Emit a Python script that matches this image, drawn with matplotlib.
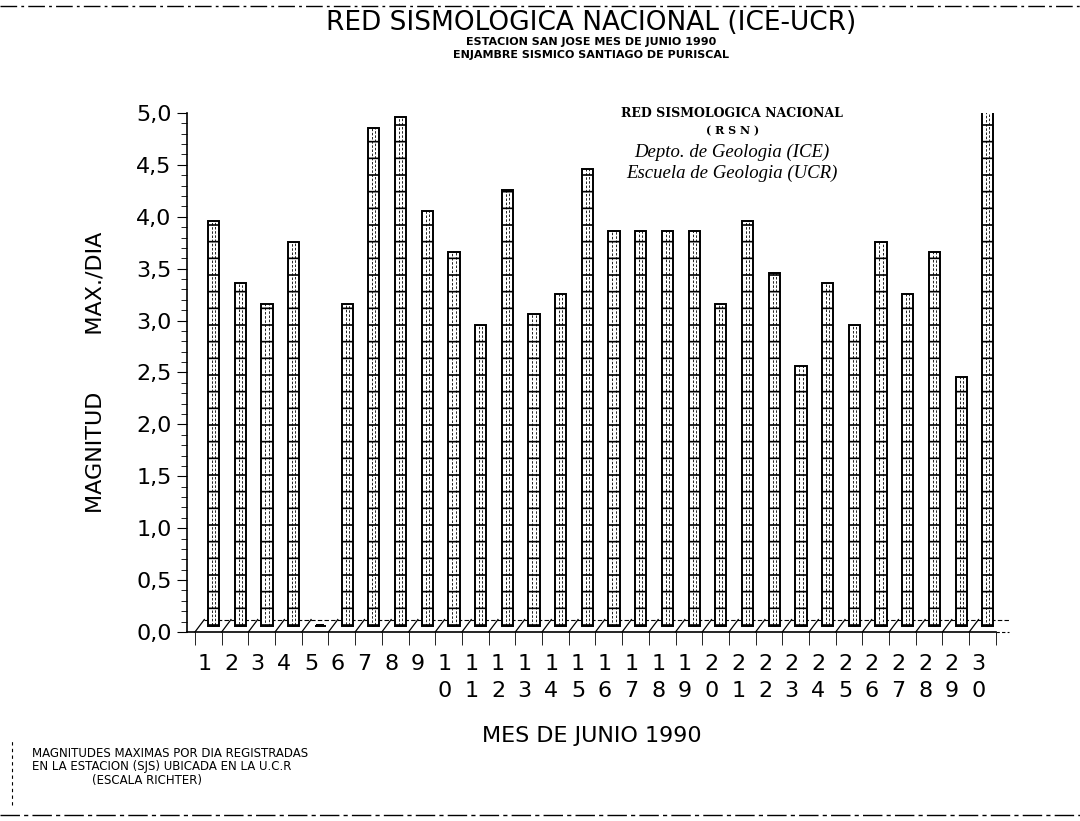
import numpy as np
import matplotlib
matplotlib.use("Agg")
import matplotlib.pyplot as plt
from matplotlib.lines import Line2D

# data: max magnitude per day, June 1990 (day 5 has no record)
days = list(range(1, 31))
magnitudes = [3.9, 3.3, 3.1, 3.7, 0.0, 3.1, 4.8, 4.9, 4.0, 3.6,
              2.9, 4.2, 3.0, 3.2, 4.4, 3.8, 3.8, 3.8, 3.8, 3.1,
              3.9, 3.4, 2.5, 3.3, 2.9, 3.7, 3.2, 3.6, 2.4, 5.0]
day_labels = [str(d) if d < 10 else f"{d // 10}\n{d % 10}" for d in days]
y_ticks = [0.0, 0.5, 1.0, 1.5, 2.0, 2.5, 3.0, 3.5, 4.0, 4.5, 5.0]
y_labels = [f"{v:.1f}".replace(".", ",") for v in y_ticks]

fig = plt.figure(figsize=(10.8, 8.21), dpi=100)
ax = fig.add_axes([0.1731, 0.2302, 0.749, 0.6322])

# 3d-ish floor under the bars
depth_x, depth_y = 0.35, 0.12
for d in days:
    x0 = d - 0.5
    ax.plot([x0, x0 + depth_x], [0, depth_y], color="black", lw=0.9, clip_on=False)
ax.plot([0.5 + depth_x, 31.0], [depth_y, depth_y], color="black",
        lw=0.8, ls=(0, (4, 2)), clip_on=False)
ax.plot([30.5, 31.0], [0, 0], color="black", lw=0.8, ls=(0, (3, 2)), clip_on=False)

# bars (columns with segment hatching + inner line for the cylinder look)
plt.rcParams["hatch.linewidth"] = 1.2
heights = np.array(magnitudes)
xs = np.array(days) + 0.2
ax.bar(xs, heights, width=0.42, bottom=depth_y * 0.5, color="white",
       edgecolor="black", hatch="-", linewidth=1.4, zorder=3)
ax.bar(xs, heights, width=0.12, bottom=depth_y * 0.5, fill=False,
       edgecolor="black", linewidth=0.6, linestyle=(0, (3, 2)), zorder=4)
ax.bar(xs[heights == 0], [0.03], width=0.3, bottom=0.05, color="black", zorder=3)

ax.set_xlim(0.2, 30.5)
ax.set_ylim(0, 5.0)
ax.spines["top"].set_visible(False)
ax.spines["right"].set_visible(False)
ax.spines["left"].set_linewidth(1.2)
ax.spines["bottom"].set_linewidth(1.2)

ax.set_yticks(y_ticks)
ax.set_yticklabels(y_labels, fontsize=16)
ax.set_yticks(np.arange(0, 5.01, 0.1), minor=True)
ax.tick_params(axis="y", which="major", length=7, direction="out", pad=4)
ax.tick_params(axis="y", which="minor", length=4, direction="out")

ax.set_xticks(np.array(days) - 0.15)
ax.set_xticklabels(day_labels, fontsize=16, va="top", linespacing=1.45)
ax.set_xticks(np.arange(0.5, 30.6, 1.0), minor=True)
ax.tick_params(axis="x", which="major", length=0, pad=16)
ax.tick_params(axis="x", which="minor", length=9, direction="out")

ax.set_ylabel("MAGNITUD        MAX./DIA", fontsize=16, labelpad=22)
ax.set_xlabel("MES DE JUNIO 1990", fontsize=16, labelpad=18)

# titles
fig.text(0.547, 0.972, "RED SISMOLOGICA NACIONAL (ICE-UCR)", fontsize=19,
         ha="center", va="center")
fig.text(0.547, 0.949, "ESTACION SAN JOSE MES DE JUNIO 1990", fontsize=8,
         ha="center", va="center", fontweight="bold")
fig.text(0.547, 0.933, "ENJAMBRE SISMICO SANTIAGO DE PURISCAL", fontsize=8,
         ha="center", va="center", fontweight="bold")

# institution box
fig.text(0.678, 0.862, "RED SISMOLOGICA NACIONAL", fontsize=9, ha="center",
         va="center", fontweight="bold", family="DejaVu Serif")
fig.text(0.678, 0.841, "( R S N )", fontsize=8, ha="center", va="center",
         fontweight="bold", family="DejaVu Serif")
fig.text(0.678, 0.815, "Depto. de Geologia (ICE)", fontsize=13.5, ha="center",
         va="center", style="italic", family="Liberation Serif")
fig.text(0.678, 0.789, "Escuela de Geologia (UCR)", fontsize=13.5, ha="center",
         va="center", style="italic", family="Liberation Serif")

# note
fig.text(0.030, 0.066, "MAGNITUDES MAXIMAS POR DIA REGISTRADAS\n"
         "EN LA ESTACION (SJS) UBICADA EN LA U.C.R\n"
         "                (ESCALA RICHTER)",
         fontsize=8.5, ha="left", va="center", linespacing=1.05)

# page border bits
fig.add_artist(Line2D([0.0, 1.0], [0.993, 0.993], color="black", lw=1.0,
                      ls=(0, (12, 3, 2, 3))))
fig.add_artist(Line2D([0.0, 1.0], [0.007, 0.007], color="black", lw=1.0,
                      ls=(0, (14, 3, 3, 3))))
fig.add_artist(Line2D([0.011, 0.011], [0.02, 0.1], color="black", lw=0.8,
                      ls=(0, (3, 3))))

fig.savefig("out.png", dpi=100, facecolor="white")
